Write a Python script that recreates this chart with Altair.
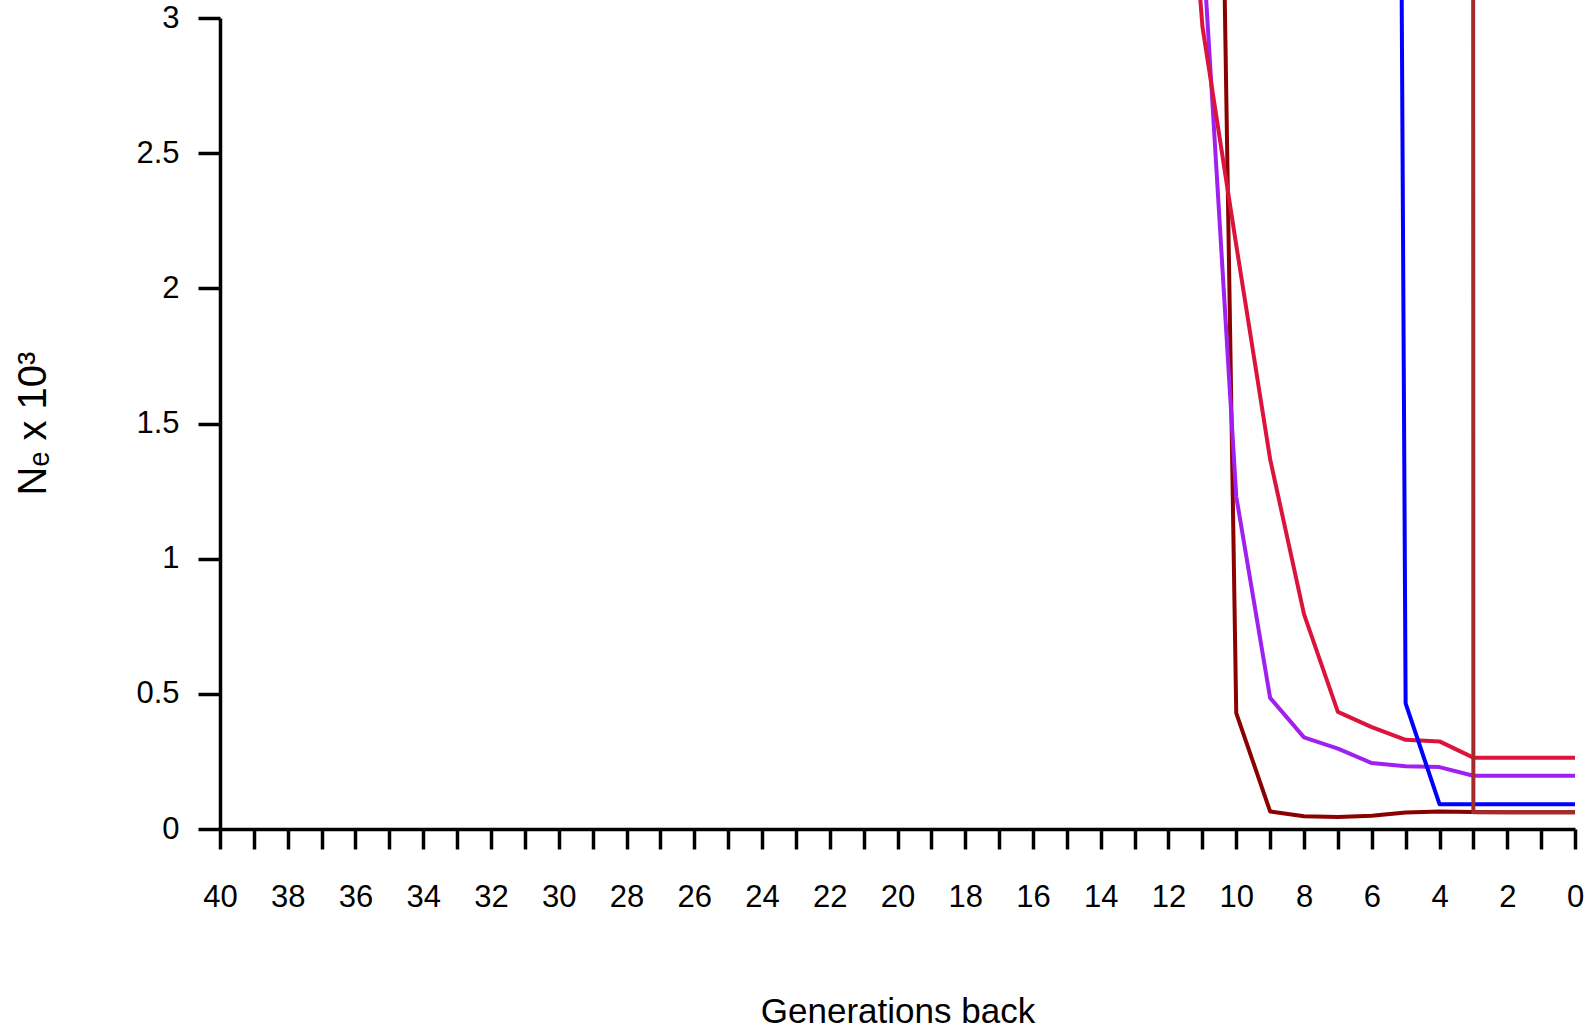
import altair as alt
import pandas as pd

# Generations back (x) and Ne x 10^3 (y) per series
gens_darkred = [0, 1, 2, 3, 4, 5, 6, 7, 8, 9, 10, 11]
ne_darkred = [0.062, 0.062, 0.062, 0.063, 0.065, 0.061, 0.049, 0.044, 0.047, 0.065, 0.429, 8.2]

gens_purple = [0, 1, 2, 3, 4, 5, 6, 7, 8, 9, 10, 11]
ne_purple = [0.197, 0.197, 0.197, 0.197, 0.229, 0.232, 0.244, 0.297, 0.339, 0.485, 1.23, 3.3]

gens_crimson = [0, 1, 2, 3, 4, 5, 6, 7, 8, 9, 10, 11, 12]
ne_crimson = [0.264, 0.264, 0.264, 0.264, 0.324, 0.330, 0.377, 0.433, 0.795, 1.368, 2.16, 2.97, 4.6]

gens_blue = [0, 1, 2, 3, 4, 5, 6]
ne_blue = [0.092, 0.092, 0.092, 0.092, 0.092, 0.465, 23.0]

gens_brown = [0, 1, 2, 3, 4]
ne_brown = [0.062, 0.062, 0.062, 0.062, 500.0]

series = [
    ("darkred", gens_darkred, ne_darkred, "#8B0000"),
    ("purple", gens_purple, ne_purple, "#A020F0"),
    ("crimson", gens_crimson, ne_crimson, "#DC143C"),
    ("blue", gens_blue, ne_blue, "#0000FF"),
    ("brown", gens_brown, ne_brown, "#A52A2A"),
]

x_ticks = list(range(0, 41))
y_ticks = [0, 0.5, 1, 1.5, 2, 2.5, 3]

FONT = "Liberation Sans"

x_enc = alt.X(
    "gen:Q",
    scale=alt.Scale(domain=[0, 40], reverse=True, nice=False, zero=False),
    axis=alt.Axis(
        values=x_ticks,
        labelExpr="datum.value % 2 == 0 ? datum.label : ''",
        title="Generations back",
        grid=False,
        domainColor="black",
        domainWidth=3.5,
        tickColor="black",
        tickWidth=3.5,
        tickSize=20,
        labelFont=FONT,
        labelFontSize=31,
        labelColor="black",
        labelBaseline="alphabetic",
        labelPadding=57,
        labelFlush=False,
        labelOverlap=False,
        titleFont=FONT,
        titleFontSize=35,
        titleFontWeight="normal",
        titleColor="black",
        titleBaseline="alphabetic",
        titleY=193,
    ),
)

y_enc = alt.Y(
    "ne:Q",
    scale=alt.Scale(domain=[0, 3], nice=False, zero=True),
    axis=alt.Axis(
        values=y_ticks,
        format="~g",
        title="Nₑ x 10³",
        grid=False,
        domainColor="black",
        domainWidth=3.5,
        tickColor="black",
        tickWidth=3.5,
        tickSize=22,
        labelFont=FONT,
        labelFontSize=31,
        labelColor="black",
        labelPadding=19,
        labelBaseline="middle",
        labelFlush=False,
        labelOverlap=False,
        titleFont=FONT,
        titleFontSize=40,
        titleFontWeight="normal",
        titleColor="black",
        titleAngle=270,
        titleBaseline="alphabetic",
        titleX=-175,
        titleY=405,
    ),
)

layers = []
for name, g, v, col in series:
    df = pd.DataFrame({"gen": g, "ne": v, "series": name})
    layers.append(
        alt.Chart(df)
        .mark_line(color=col, strokeWidth=4, strokeJoin="round", clip=False)
        .encode(x=x_enc, y=y_enc)
    )

chart = (
    alt.layer(*layers)
    .properties(
        width=1355,
        height=811,
        background="white",
        autosize=alt.AutoSizeParams(type="none"),
        padding={"left": 220, "top": 18, "right": 10, "bottom": 200},
    )
    .configure_view(strokeWidth=0, stroke="transparent")
)

chart.save("out.html", embed_options={"renderer": "svg", "actions": False})
